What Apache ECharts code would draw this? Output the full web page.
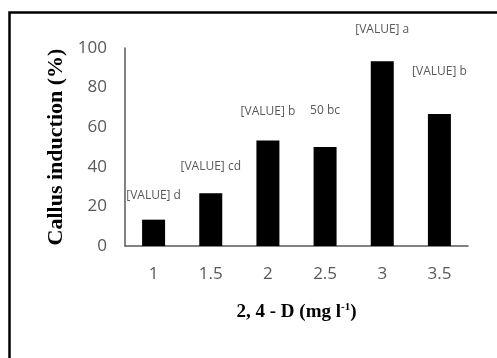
<!DOCTYPE html>
<html>
<head>
<meta charset="utf-8">
<script src="https://cdn.jsdelivr.net/npm/echarts@6/dist/echarts.min.js"></script>
<style>html,body{margin:0;padding:0;background:#fff;}#c{width:497px;height:358px;}</style>
</head>
<body>
<div id="c"></div>
<script>
const categories = ['1', '1.5', '2', '2.5', '3', '3.5'];
const values = [13.3, 26.7, 53.3, 50, 93.3, 66.7];
const labelTexts = ['[VALUE] d', '[VALUE] cd', '[VALUE] b', '50 bc', '[VALUE] a', '[VALUE] b'];
const labelGaps = [18, 21, 23, 30, 26, 36];
const yTicks = [0, 20, 40, 60, 80, 100];

const chart = echarts.init(document.getElementById('c'));
chart.setOption({
  animation: false,
  backgroundColor: '#ffffff',
  graphic: [{
    type: 'rect',
    shape: { x: 9.5, y: 12.5, width: 700, height: 700 },
    style: { fill: 'none', stroke: '#000', lineWidth: 2.5 },
    silent: true
  }],
  grid: { left: 125, right: 29, top: 48, bottom: 112 },
  xAxis: {
    type: 'category',
    data: categories,
    axisLine: { lineStyle: { color: '#595959', width: 1.5 } },
    axisTick: { show: false },
    axisLabel: { color: '#595959', fontFamily: 'Open Sans', fontSize: 17, margin: 20 },
    name: '2, 4 - D (mg l{sup|-1})',
    nameLocation: 'middle',
    nameGap: 56,
    nameTextStyle: {
      color: '#000', fontFamily: 'Liberation Serif', fontWeight: 'bold', fontSize: 19,
      rich: { sup: { fontFamily: 'Liberation Serif', fontWeight: 'bold', fontSize: 11, padding: [0, 0, 9, 0], color: '#000' } }
    }
  },
  yAxis: {
    type: 'value',
    min: 0, max: 100, interval: 20,
    axisLine: { show: true, lineStyle: { color: '#595959', width: 1.5 } },
    axisTick: { show: false },
    splitLine: { show: false },
    axisLabel: { color: '#595959', fontFamily: 'Open Sans', fontSize: 17, margin: 18,
      formatter: v => yTicks.includes(v) ? String(v) : '' },
    name: 'Callus induction (%)',
    nameLocation: 'middle',
    nameGap: 56,
    nameTextStyle: { color: '#000', fontFamily: 'Liberation Serif', fontWeight: 'bold', fontSize: 22 }
  },
  series: [{
    type: 'bar',
    barWidth: 23,
    itemStyle: { color: '#000' },
    data: values.map((v, i) => ({
      value: v,
      label: {
        show: true, position: 'top', distance: labelGaps[i],
        formatter: labelTexts[i],
        color: '#595959', fontFamily: 'Open Sans', fontSize: 12
      }
    }))
  }]
});
</script>
</body>
</html>
